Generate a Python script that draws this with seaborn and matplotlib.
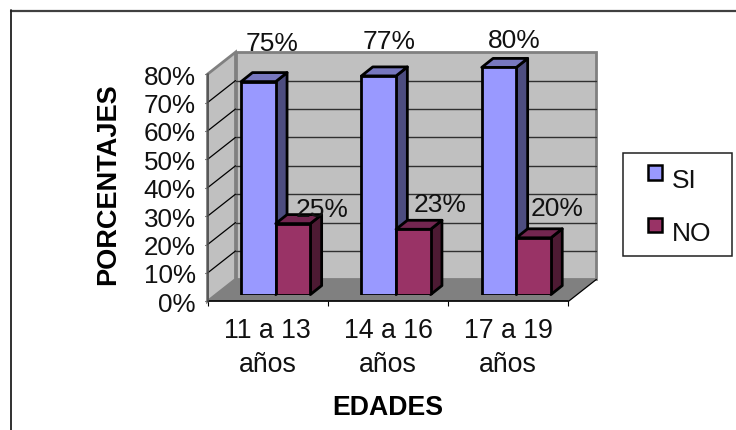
import matplotlib
matplotlib.use("Agg")
import matplotlib.pyplot as plt
from matplotlib.patches import Polygon, Rectangle
from matplotlib.legend_handler import HandlerPatch
import pandas as pd
import seaborn as sns

age_groups = ["11 a 13\naños", "14 a 16\naños", "17 a 19\naños"]
si_values = [75, 77, 80]
no_values = [25, 23, 20]
y_ticks = [0, 10, 20, 30, 40, 50, 60, 70, 80]

# Label offsets from each bar top, in points
si_label_offsets = [(9.5, 27.5), (7.5, 25.5), (11, 19.5)]
no_label_offsets = [(21, 10.5), (19.5, 18), (17, 21.5)]

W, H = 736, 431
sns.set_theme(style="white", rc={"font.family": ["Liberation Sans", "DejaVu Sans"]})
fig = plt.figure(figsize=(W / 100, H / 100), dpi=100, facecolor="white")


def axes_px(left, top, right, bottom):
    return fig.add_axes([left / W, 1 - bottom / H, (right - left) / W, (bottom - top) / H])


# Chart border: only the top and left edges fall inside the canvas
fig.add_artist(plt.Line2D([10.5 / W, 1], [1 - 11.5 / H] * 2, color="#404040", lw=1.6))
fig.add_artist(plt.Line2D([10.5 / W] * 2, [1 - 11 / H, 0], color="#202020", lw=1.3))

# Front plane of the 3D box: carries the axes, ticks and walls
PX_PER_CAT, PX_PER_PCT = 120.3, 2.84
ax = axes_px(207.5, 75.2, 568.4, 302.4)
ax.set_xlim(-0.5, 2.5)
ax.set_ylim(0, 80)
ax.patch.set_alpha(0)
for s in ax.spines.values():
    s.set_visible(False)

depth_x, depth_y = 28 / PX_PER_CAT, 22 / PX_PER_PCT
x0, x1 = -0.5, 2.5
wall = "#C0C0C0"
edge = "#808080"
kw = dict(clip_on=False)
ax.add_patch(Rectangle((x0 + depth_x, depth_y), x1 - x0, 80, fc=wall, ec=edge, lw=2, zorder=1, **kw))
ax.add_patch(Polygon([(x0, 0), (x0, 80), (x0 + depth_x, 80 + depth_y), (x0 + depth_x, depth_y)],
                     fc=wall, ec=edge, lw=2, zorder=1.2, **kw))
ax.add_patch(Polygon([(x0, 0), (x1, 0), (x1 + depth_x, depth_y), (x0 + depth_x, depth_y)],
                     fc="#808080", ec="none", zorder=1.4, **kw))
ax.plot([x1, x1 + depth_x], [0, depth_y], color="black", lw=0.9, zorder=1.6, **kw)
for v in y_ticks[1:-1]:
    ax.plot([x0 + depth_x, x1 + depth_x], [v + depth_y] * 2, color="#303030", lw=1.0, zorder=1.3, **kw)
for v in y_ticks[1:-1]:
    ax.plot([x0, x0 + depth_x], [v, v + depth_y], color="black", lw=0.9, zorder=1.3, **kw)
ax.plot([x0, x1], [0, 0], color="black", lw=1.2, zorder=1.7, **kw)
ax.plot([x0, x0], [0, 80], color="#505050", lw=1.2, zorder=1.7, **kw)

ax.set_xticks([-0.5, 0.5, 1.5, 2.5], labels=[])
ax.set_xticks([0, 1, 2], labels=age_groups, minor=True)
ax.set_yticks(y_ticks, labels=[f"{v}%" for v in y_ticks])
ax.tick_params(axis="x", which="major", bottom=True, length=3.5, width=0.8, color="black")
ax.tick_params(axis="x", which="minor", bottom=False, labelsize=19.3, pad=7, labelcolor="#111111")
ax.tick_params(axis="y", left=True, length=2.5, width=0.8, color="black", labelsize=18.7, pad=6,
               labelcolor="#111111")
for lab in ax.get_xticklabels(minor=True):
    lab.set_linespacing(1.42)
fig.text(108 / W, 1 - 184.5 / H, "PORCENTAJES", rotation=90, ha="center", va="center",
         fontsize=19.5, fontweight="bold", color="black")
fig.text(387.5 / W, 1 - 407.7 / H, "EDADES", ha="center", va="center",
         fontsize=19.2, fontweight="bold", color="black")

# Bars sit partway into the box, so they get their own axes at the same scale
bar_ax = axes_px(215.6, 68.4, 576.5, 295.6)
bar_ax.patch.set_alpha(0)
df = pd.DataFrame({
    "edad": age_groups * 2,
    "porcentaje": si_values + no_values,
    "respuesta": ["SI"] * 3 + ["NO"] * 3,
})
palette = {"SI": "#9999FF", "NO": "#993366"}
sns.barplot(data=df, x="edad", y="porcentaje", hue="respuesta", hue_order=["SI", "NO"],
            palette=palette, width=0.575, gap=0, saturation=1, legend=False, ax=bar_ax,
            edgecolor="black", linewidth=2)
bar_ax.set_xlim(-0.5, 2.5)
bar_ax.set_ylim(0, 80)
bar_ax.axis("off")

bar_dx, bar_dy = 11.3 / PX_PER_CAT, 9 / PX_PER_PCT
shades = [("#4D4D80", "#7777BF"), ("#4D1A33", "#732650")]
offsets = [si_label_offsets, no_label_offsets]
for g, container in enumerate(bar_ax.containers):
    side_c, top_c = shades[g]
    z = 3 + 2 * g
    for i, bar in enumerate(container):
        x, w, h = bar.get_x(), bar.get_width(), bar.get_height()
        bar.set_zorder(z + 1)
        bar_ax.add_patch(Polygon([(x + w, 0), (x + w, h), (x + w + bar_dx, h + bar_dy), (x + w + bar_dx, bar_dy)],
                                 fc=side_c, ec="black", lw=2, joinstyle="round", zorder=z, clip_on=False))
        bar_ax.add_patch(Polygon([(x, h), (x + w, h), (x + w + bar_dx, h + bar_dy), (x + bar_dx, h + bar_dy)],
                                 fc=top_c, ec="black", lw=2, joinstyle="round", zorder=z, clip_on=False))
        bar_ax.annotate(f"{h:.0f}%", (x + w / 2, h), xytext=offsets[g][i], textcoords="offset points",
                        ha="center", va="center", fontsize=19, color="#111111", zorder=9,
                        annotation_clip=False)

# Legend box with square swatches
handles = [Rectangle((0, 0), 1, 1, fc=palette[k], ec="black", lw=1.8, label=k) for k in ["SI", "NO"]]


class SquareHandler(HandlerPatch):
    def create_artists(self, legend, orig, xd, yd, width, height, fontsize, trans):
        side = 10.5
        p = Rectangle((xd + (width - side) / 2, yd + (height - side) / 2), side, side,
                      fc=orig.get_facecolor(), ec="black", lw=1.8, transform=trans)
        return [p]


fig.add_artist(Rectangle((622.5 / W, 1 - 257 / H), 109 / W, 103 / H, transform=fig.transFigure,
                         fc="white", ec="#202020", lw=1.1))
fig.legend(handles=handles, handler_map={Rectangle: SquareHandler()}, loc="center left",
           bbox_to_anchor=(618 / W, 1 - 206.5 / H), frameon=False, fontsize=19, labelspacing=1.0,
           handlelength=1, handleheight=1, handletextpad=0.15, labelcolor="#111111")

fig.savefig("out.png", dpi=100)
